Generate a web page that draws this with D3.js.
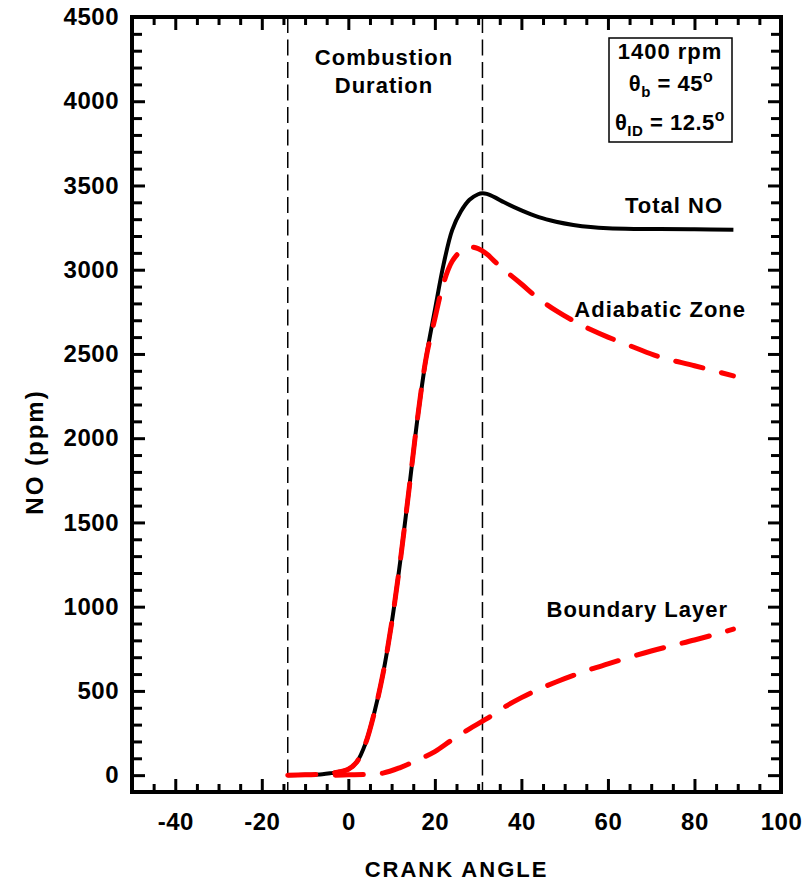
<!DOCTYPE html>
<html>
<head>
<meta charset="utf-8">
<script src="https://cdn.jsdelivr.net/npm/d3@7"></script>
<style>
  body { margin: 0; background: #fff; }
  svg { display: block; font-family: "Liberation Sans", Arial, sans-serif; font-weight: bold; }
  .tick text { font-size: 24px; font-weight: bold; fill: #000; letter-spacing: 0.5px; }
  .tick line { stroke: #000; stroke-width: 3; }
</style>
</head>
<body>
<svg width="804" height="884"></svg>
<script>
// Datos
const totalAngle = [-14, -10, -6, -4, -2, 0, 2, 4, 6, 8, 10, 12, 14, 16, 18, 20, 22, 24, 26, 28, 30, 31, 32, 34, 36, 40, 44, 48, 52, 56, 60, 66, 72, 80, 89]
const totalNO = [0, 2, 6, 12, 20, 35, 80, 190, 370, 600, 900, 1270, 1690, 2120, 2480, 2760, 3030, 3235, 3345, 3415, 3448, 3454, 3450, 3428, 3400, 3352, 3312, 3285, 3266, 3253, 3246, 3242, 3241, 3240, 3237]

const adiabaticAngle = [-14, -10, -6, -4, -2, 0, 2, 4, 6, 8, 10, 12, 14, 16, 18, 20, 22, 24, 26, 28, 30, 32, 34, 36, 40, 44, 48, 52, 56, 60, 66, 72, 80, 89]
const adiabaticNO = [0, 2, 6, 12, 20, 35, 80, 190, 370, 600, 900, 1270, 1690, 2120, 2480, 2710, 2920, 3050, 3110, 3135, 3125, 3093, 3045, 3000, 2915, 2828, 2757, 2697, 2645, 2600, 2540, 2482, 2430, 2370]

const boundaryAngle = [-3, 0, 4, 8, 12, 16, 20, 24, 28, 32, 36, 40, 44, 48, 52, 56, 60, 65, 70, 75, 80, 85, 89]
const boundaryNO = [0, 2, 4, 12, 45, 90, 140, 210, 275, 335, 403, 460, 510, 553, 592, 628, 660, 700, 737, 770, 802, 837, 867]

const combustionLimits = [-14, 31]

const xMajor = [-40, -20, 0, 20, 40, 60, 80, 100]
const yMajor = [0, 500, 1000, 1500, 2000, 2500, 3000, 3500, 4000, 4500]

// Márgenes
const plotLeft = 132, plotRight = 781, plotTop = 17, plotBottom = 792

const xScale = d3.scaleLinear([-50, 100], [plotLeft, plotRight])
const yScale = d3.scaleLinear([-100, 4500], [plotBottom, plotTop])

const xMinor = d3.range(-50, 101, 5).filter(d => !xMajor.includes(d))
const yMinor = d3.range(-100, 4501, 100).filter(d => !yMajor.includes(d))

const svg = d3.select("svg")

// Ejes (ticks hacia adentro)
svg.append("g").attr("transform", `translate(0, ${plotBottom})`)
  .call(d3.axisBottom(xScale).tickValues(xMajor).tickSizeInner(-13).tickSizeOuter(0).tickPadding(21).tickFormat(d => d))
svg.append("g").attr("transform", `translate(0, ${plotBottom})`)
  .call(d3.axisBottom(xScale).tickValues(xMinor).tickSizeInner(-8).tickSizeOuter(0).tickFormat(""))
svg.append("g").attr("transform", `translate(0, ${plotTop})`)
  .call(d3.axisTop(xScale).tickValues(xMajor).tickSizeInner(-13).tickSizeOuter(0).tickFormat(""))
svg.append("g").attr("transform", `translate(0, ${plotTop})`)
  .call(d3.axisTop(xScale).tickValues(xMinor).tickSizeInner(-8).tickSizeOuter(0).tickFormat(""))

svg.append("g").attr("transform", `translate(${plotLeft}, 0)`)
  .call(d3.axisLeft(yScale).tickValues(yMajor).tickSizeInner(-13).tickSizeOuter(0).tickPadding(13).tickFormat(d => d))
svg.append("g").attr("transform", `translate(${plotLeft}, 0)`)
  .call(d3.axisLeft(yScale).tickValues(yMinor).tickSizeInner(-10).tickSizeOuter(0).tickFormat(""))
svg.append("g").attr("transform", `translate(${plotRight}, 0)`)
  .call(d3.axisRight(yScale).tickValues(yMajor).tickSizeInner(-13).tickSizeOuter(0).tickFormat(""))
svg.append("g").attr("transform", `translate(${plotRight}, 0)`)
  .call(d3.axisRight(yScale).tickValues(yMinor).tickSizeInner(-10).tickSizeOuter(0).tickFormat(""))

svg.selectAll(".domain").remove()

svg.append("rect")
  .attr("x", plotLeft).attr("y", plotTop)
  .attr("width", plotRight - plotLeft).attr("height", plotBottom - plotTop)
  .attr("fill", "none").attr("stroke", "#000").attr("stroke-width", 4)

// Líneas de duración de combustión
svg.selectAll(".limit")
  .data(combustionLimits)
  .join("line")
    .attr("x1", d => xScale(d)).attr("x2", d => xScale(d))
    .attr("y1", plotTop).attr("y2", plotBottom)
    .attr("stroke", "#000").attr("stroke-width", 1.5)
    .attr("stroke-dasharray", "16,6.5")

// Curvas
const line = d3.line()
  .x(d => xScale(d[0]))
  .y(d => yScale(d[1]))
  .curve(d3.curveCatmullRom.alpha(0.5))

svg.append("path")
  .datum(d3.zip(totalAngle, totalNO))
  .attr("d", line)
  .attr("fill", "none").attr("stroke", "#000").attr("stroke-width", 4)

svg.append("path")
  .datum(d3.zip(adiabaticAngle, adiabaticNO))
  .attr("d", line)
  .attr("fill", "none").attr("stroke", "#ff0000").attr("stroke-width", 5)
  .attr("stroke-linecap", "round")
  .attr("stroke-dasharray", "28,19")

svg.append("path")
  .datum(d3.zip(boundaryAngle, boundaryNO))
  .attr("d", line)
  .attr("fill", "none").attr("stroke", "#ff0000").attr("stroke-width", 5)
  .attr("stroke-linecap", "round")
  .attr("stroke-dasharray", "28,19")

// Etiquetas
const label = (x, y, txt, anchor) => svg.append("text")
  .attr("x", x).attr("y", y)
  .attr("text-anchor", anchor)
  .attr("font-size", "22px")
  .attr("letter-spacing", "1")
  .text(txt)

label(384, 65, "Combustion", "middle")
label(384, 93, "Duration", "middle")
label(723, 213, "Total NO", "end")
label(746, 317, "Adiabatic Zone", "end")
label(728, 617, "Boundary Layer", "end")

// Caja de parámetros
svg.append("rect")
  .attr("x", 609).attr("y", 38).attr("width", 123).attr("height", 104)
  .attr("fill", "#fff").attr("stroke", "#000").attr("stroke-width", 1.5)

label(670, 59, "1400 rpm", "middle")

const t1 = svg.append("text").attr("x", 671).attr("y", 91)
  .attr("text-anchor", "middle").attr("font-size", "22px").attr("letter-spacing", "0.5")
t1.append("tspan").text("θ")
t1.append("tspan").attr("font-size", "15px").attr("dy", 6).text("b")
t1.append("tspan").attr("dy", -6).text(" = 45")
t1.append("tspan").attr("font-size", "16px").attr("dy", -9).text("o")

const t2 = svg.append("text").attr("x", 670).attr("y", 130)
  .attr("text-anchor", "middle").attr("font-size", "22px").attr("letter-spacing", "0.5")
t2.append("tspan").text("θ")
t2.append("tspan").attr("font-size", "15px").attr("dy", 6).text("ID")
t2.append("tspan").attr("dy", -6).text(" = 12.5")
t2.append("tspan").attr("font-size", "16px").attr("dy", -9).text("o")

// Títulos de ejes
svg.append("text")
  .attr("x", (plotLeft + plotRight) / 2).attr("y", 877)
  .attr("text-anchor", "middle")
  .attr("font-size", "22px")
  .attr("letter-spacing", "2")
  .text("CRANK ANGLE")

svg.append("text")
  .attr("transform", "translate(43, 452) rotate(-90)")
  .attr("text-anchor", "middle")
  .attr("font-size", "24px")
  .attr("letter-spacing", "2")
  .text("NO (ppm)")
</script>
</body>
</html>
